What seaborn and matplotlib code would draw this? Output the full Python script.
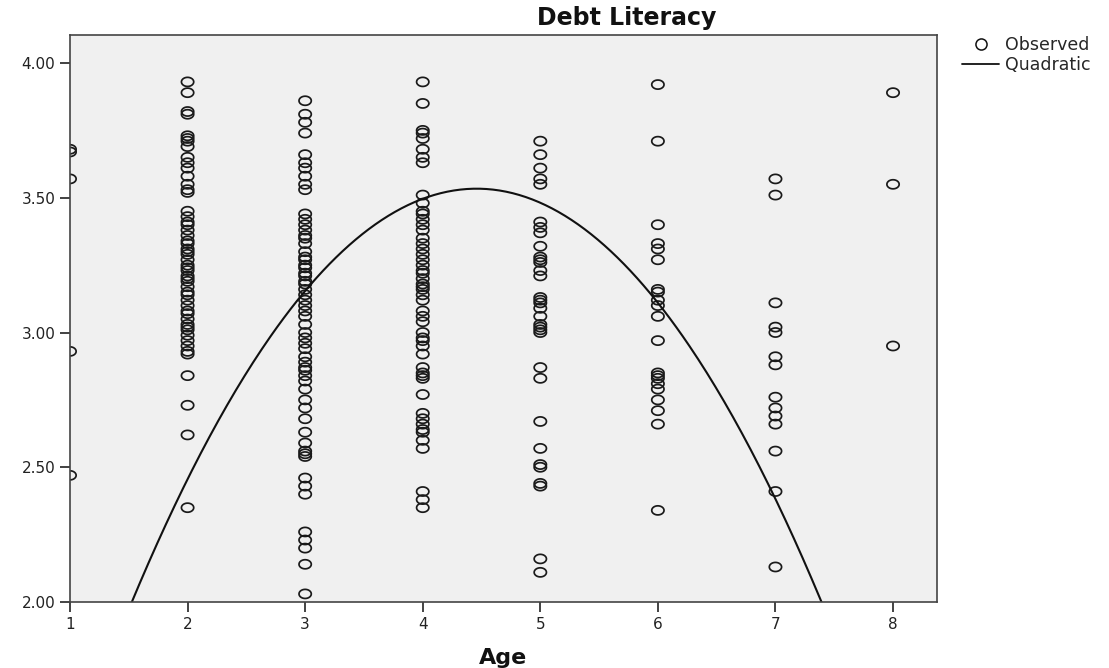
import numpy as np
import pandas as pd
import matplotlib
matplotlib.use("Agg")
import matplotlib.pyplot as plt
from matplotlib.path import Path
from matplotlib.lines import Line2D
import seaborn as sns

# Debt literacy scores observed within each age group
age_1 = [3.68, 3.67, 3.57, 2.93, 2.47]
age_2 = [3.93, 3.89, 3.82, 3.81, 3.73, 3.72, 3.71, 3.69, 3.65, 3.63, 3.61, 3.58,
         3.55, 3.53, 3.52, 3.45, 3.43, 3.41, 3.40, 3.38, 3.36, 3.34, 3.33, 3.31,
         3.30, 3.29, 3.27, 3.25, 3.24, 3.23, 3.21, 3.20, 3.19, 3.17, 3.15, 3.14,
         3.12, 3.10, 3.08, 3.07, 3.05, 3.03, 3.02, 3.01, 2.99, 2.97, 2.95, 2.93,
         2.92, 2.84, 2.73, 2.62, 2.35]
age_3 = [3.86, 3.81, 3.78, 3.74, 3.66, 3.63, 3.61, 3.58, 3.55, 3.53, 3.44, 3.42,
         3.40, 3.38, 3.36, 3.35, 3.33, 3.30, 3.28, 3.27, 3.25, 3.24, 3.22, 3.21,
         3.19, 3.18, 3.16, 3.14, 3.12, 3.10, 3.08, 3.06, 3.03, 3.00, 2.98, 2.96,
         2.94, 2.91, 2.89, 2.87, 2.86, 2.84, 2.82, 2.79, 2.75, 2.72, 2.68, 2.63,
         2.59, 2.56, 2.55, 2.54, 2.46, 2.43, 2.40, 2.26, 2.23, 2.20, 2.14, 2.03]
age_4 = [3.93, 3.85, 3.75, 3.74, 3.72, 3.68, 3.65, 3.63, 3.51, 3.48, 3.45, 3.44,
         3.42, 3.40, 3.38, 3.35, 3.33, 3.31, 3.29, 3.27, 3.25, 3.23, 3.22, 3.20,
         3.18, 3.17, 3.16, 3.14, 3.12, 3.08, 3.06, 3.04, 3.00, 2.98, 2.97, 2.95,
         2.92, 2.87, 2.85, 2.84, 2.83, 2.77, 2.70, 2.68, 2.66, 2.64, 2.63, 2.60,
         2.57, 2.41, 2.38, 2.35]
age_5 = [3.71, 3.66, 3.61, 3.57, 3.55, 3.41, 3.39, 3.37, 3.32, 3.28, 3.27, 3.26,
         3.23, 3.21, 3.13, 3.12, 3.11, 3.09, 3.06, 3.03, 3.02, 3.01, 3.00, 2.87,
         2.83, 2.67, 2.57, 2.51, 2.50, 2.44, 2.43, 2.16, 2.11]
age_6 = [3.92, 3.71, 3.40, 3.33, 3.31, 3.27, 3.16, 3.15, 3.12, 3.10, 3.06, 2.97,
         2.85, 2.84, 2.83, 2.81, 2.79, 2.75, 2.71, 2.66, 2.34]
age_7 = [3.57, 3.51, 3.11, 3.02, 3.00, 2.91, 2.88, 2.76, 2.72, 2.69, 2.66, 2.56,
         2.41, 2.13]
age_8 = [3.89, 3.55, 2.95]

groups = [age_1, age_2, age_3, age_4, age_5, age_6, age_7, age_8]
age_levels = [1, 2, 3, 4, 5, 6, 7, 8]

# Quadratic fit coefficients: y = b0 + b1*x + b2*x^2
quad_b0 = -0.011
quad_b1 = 1.590
quad_b2 = -0.1783

x_ticks = [1, 2, 3, 4, 5, 6, 7, 8]
y_ticks = [2.00, 2.50, 3.00, 3.50, 4.00]

df = pd.DataFrame({
    "Age": np.concatenate([[a] * len(g) for a, g in zip(age_levels, groups)]),
    "Debt Literacy": np.concatenate(groups),
})

sns.set_theme(style="white")
plt.rcParams["font.family"] = ["DejaVu Sans"]
plt.rcParams.update({
    "xtick.bottom": True, "ytick.left": True,
    "xtick.major.size": 7, "ytick.major.size": 7,
    "xtick.major.width": 1.2, "ytick.major.width": 1.2,
    "xtick.color": "#222222", "ytick.color": "#222222",
    "xtick.direction": "out", "ytick.direction": "out",
})

fig = plt.figure(figsize=(11.09, 6.68), dpi=100)
ax = fig.add_axes([70 / 1109, 66 / 668, 867 / 1109, 567 / 668])
ax.set_facecolor("#f0f0f0")

# Slightly wide open ellipse used as the observation marker
theta = np.linspace(0, 2 * np.pi, 60)
ell = Path(np.column_stack([1.0 * np.cos(theta), 0.74 * np.sin(theta)]), closed=True)

sns.scatterplot(data=df, x="Age", y="Debt Literacy", ax=ax, marker=ell, s=78,
                facecolor="none", edgecolor="#1a1a1a", linewidth=1.25,
                legend=False, zorder=3, clip_on=True)

xs = np.linspace(1.0, 8.4, 400)
ys = quad_b0 + quad_b1 * xs + quad_b2 * xs ** 2
sns.lineplot(x=xs, y=ys, ax=ax, color="#111111", linewidth=1.5, zorder=4,
             estimator=None, sort=False)

ax.set_xlim(1.0, 8.374)
ax.set_ylim(2.0, 4.104)
ax.set_xticks(x_ticks)
ax.set_xticklabels([str(t) for t in x_ticks])
ax.set_yticks(y_ticks)
ax.set_yticklabels([f"{t:.2f}" for t in y_ticks])
ax.tick_params(axis="both", direction="out", length=7, width=1.2, color="#222222",
               labelsize=11, labelcolor="#222222", bottom=True, left=True)
for tick in ax.xaxis.get_major_ticks() + ax.yaxis.get_major_ticks():
    tick.tick1line.set_visible(True)
for sp in ax.spines.values():
    sp.set_color("#444444")
    sp.set_linewidth(1.2)
    sp.set_zorder(5)

ax.set_xlabel("Age", fontsize=16, fontweight="bold", color="#111111", labelpad=12)
ax.set_ylabel("")
fig.text(627 / 1109, 1 - 18 / 668, "Debt Literacy", ha="center", va="center",
         fontsize=17, fontweight="bold", color="#111111")

handles = [
    Line2D([], [], linestyle="none", marker="o", markersize=8, markerfacecolor="none",
           markeredgecolor="#111111", markeredgewidth=1.1, label="Observed"),
    Line2D([], [], color="#111111", linewidth=1.3, label="Quadratic"),
]
fig.legend(handles=handles, loc="upper left", bbox_to_anchor=(962 / 1109, 1 - 36 / 668),
           frameon=False, fontsize=12.5, handlelength=2.15, handletextpad=0.3,
           labelspacing=0.12, borderaxespad=0, borderpad=0)

fig.savefig("out.png", dpi=100, facecolor="white")
